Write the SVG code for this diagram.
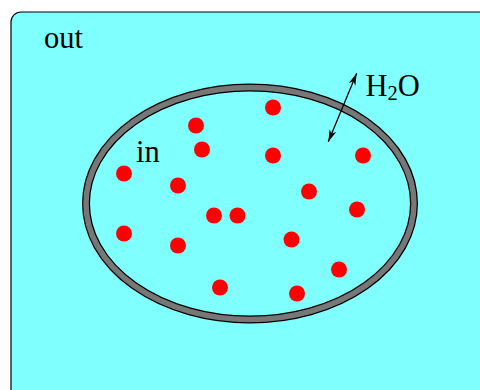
<svg xmlns="http://www.w3.org/2000/svg" width="480" height="390" viewBox="0 0 480 390">
<defs>
<style>
.lbl{font-family:"Liberation Serif","Times New Roman",serif;font-size:30.5px;fill:#000}
.dot{fill:#ff0000}
</style>
<marker id="ah" viewBox="0 0 12 8" refX="12" refY="4" markerWidth="12" markerHeight="8" markerUnits="userSpaceOnUse" orient="auto-start-reverse">
<path d="M0,0.5 L12,4 L0,7.5 L3.5,4 Z" fill="#000"/>
</marker>
</defs>
<rect x="11" y="12" width="490" height="400" rx="10" fill="#80ffff" stroke="#000" stroke-width="1.2"/>
<text class="lbl" x="44" y="47.5">out</text>
<g id="cell">
<ellipse cx="250" cy="203.5" rx="164" ry="116" fill="none" stroke="#000" stroke-width="8"/>
<ellipse cx="250" cy="203.5" rx="164" ry="116" fill="none" stroke="#777" stroke-width="5.5"/>
</g>
<text class="lbl" x="136" y="161.7">in</text>
<g id="solutes">
<circle class="dot" cx="273" cy="107.5" r="8"/>
<circle class="dot" cx="196" cy="125.5" r="8"/>
<circle class="dot" cx="202" cy="149.5" r="8"/>
<circle class="dot" cx="273" cy="155.5" r="8"/>
<circle class="dot" cx="363" cy="155.5" r="8"/>
<circle class="dot" cx="124" cy="173.5" r="8"/>
<circle class="dot" cx="178" cy="185.5" r="8"/>
<circle class="dot" cx="309" cy="191.5" r="8"/>
<circle class="dot" cx="357" cy="209.5" r="8"/>
<circle class="dot" cx="214" cy="215.5" r="8"/>
<circle class="dot" cx="237.5" cy="215.5" r="8"/>
<circle class="dot" cx="124" cy="233.5" r="8"/>
<circle class="dot" cx="178" cy="245.5" r="8"/>
<circle class="dot" cx="291.5" cy="239.5" r="8"/>
<circle class="dot" cx="339" cy="269.5" r="8"/>
<circle class="dot" cx="220" cy="287.5" r="8"/>
<circle class="dot" cx="297" cy="293.5" r="8"/>
</g>
<g id="connectors">
<line x1="328.3" y1="141.7" x2="356.7" y2="73.3" stroke="#000" stroke-width="1.3" marker-start="url(#ah)" marker-end="url(#ah)"/>
</g>
<text class="lbl" x="365.5" y="95.7">H<tspan font-size="20.5" dy="4.5">2</tspan><tspan dy="-4.5">O</tspan></text>
</svg>
